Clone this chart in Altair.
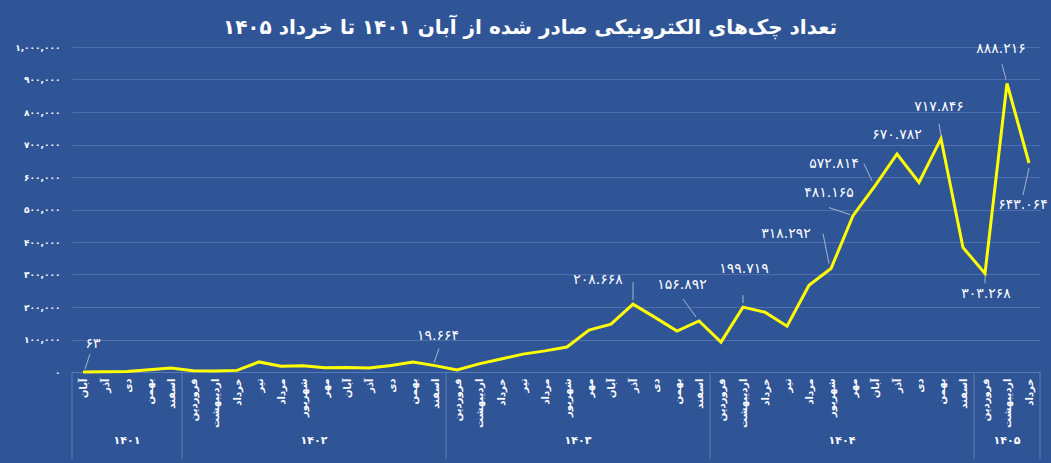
import altair as alt
import pandas as pd

FA = "۰۱۲۳۴۵۶۷۸۹"

def fa_digits(s):
    return "".join(FA[int(c)] if c.isdigit() else c for c in s)

title_text = "تعداد چک‌های الکترونیکی صادر شده از آبان ۱۴۰۱ تا خرداد ۱۴۰۵"

full_year = ["فروردین", "اردیبهشت", "خرداد", "تیر", "مرداد", "شهریور",
             "مهر", "آبان", "آذر", "دی", "بهمن", "اسفند"]
months = full_year[7:] + full_year * 3 + full_year[:3]
year_names = ["۱۴۰۱", "۱۴۰۲", "۱۴۰۳", "۱۴۰۴", "۱۴۰۵"]
year_counts = [5, 12, 12, 12, 3]

values = [63, 500, 1500, 7000, 12000,
          4000, 3000, 5000, 31000, 18000, 19000, 13000, 14000, 12000, 20000, 31000, 19664,
          6000, 25000, 40000, 55000, 65000, 77000, 129000, 147000, 208668, 168000, 126000, 156892,
          92000, 199719, 184000, 141000, 267000, 318292, 481165, 572814, 670782, 583000, 717846, 383000,
          303268, 888216, 643064]

y_ticks = [0, 100000, 200000, 300000, 400000, 500000, 600000, 700000, 800000, 900000, 1000000]

# labelled points: index, label offset (dx, dy) and leader segment offsets (layout only)
labels = [
    (0, 10, -28, (2, -3, 7, -18)),
    (16, 3, -30, (-1, -3, 4, -17)),
    (25, -35, -24, (0, -4, 0, -22)),
    (28, -17, -36, (-3, -4, -16, -22)),
    (30, 1, -38, (0, -4, 0, -12)),
    (34, -45, -35, (-2, -5, -8, -35)),
    (35, -24, -23, (-3, -1, -24, -8)),
    (36, -41, -22, (-3, -5, -11, -22)),
    (37, 0, -19, None),
    (39, -2, -32, (0, -3, -2, -15)),
    (41, 1, 21, (0, 3, 0, 10)),
    (42, -6, -34, (-1, -4, -5, -19)),
    (43, -6, 42, (0, 5, -6, 32)),
]

BG = "#2F5597"
FONT = "DejaVu Sans"

year_of = []
for y, c in zip(year_names, year_counts):
    year_of += [y] * c

df = pd.DataFrame({"idx": list(range(len(values))), "month": months,
                   "year": year_of, "value": values})
df["label"] = [fa_digits(f"{v:,}".replace(",", ".")) for v in values]

bounds = [-0.5]
for c in year_counts:
    bounds.append(bounds[-1] + c)
yr_df = pd.DataFrame({"year": year_names,
                      "idx": [(bounds[i] + bounds[i + 1]) / 2 for i in range(len(year_names))]})
sep_df = pd.DataFrame({"idx": bounds})

month_expr = "[" + ",".join(f"'{m}'" for m in months) + "][datum.value]"
y_expr = "format(datum.value, ',')"
for d in range(10):
    y_expr = f"replace({y_expr}, regexp('{d}', 'g'), '{FA[d]}')"

xscale = alt.Scale(domain=[-0.5, len(values) - 0.5], nice=False, zero=False)
yscale = alt.Scale(domain=[0, 1000000], nice=False)

X = alt.X("idx:Q", scale=xscale, title=None,
          axis=alt.Axis(values=list(range(len(values))), labelExpr=month_expr,
                        labelAngle=270, labelFont=FONT, labelFontSize=10,
                        labelFontWeight="bold",
                        labelColor="white", labelPadding=6, ticks=False, grid=False,
                        domainColor="#5A7AB5", labelOverlap=False, labelBound=False))
Y = alt.Y("value:Q", scale=yscale, title=None,
          axis=alt.Axis(values=y_ticks, labelExpr=y_expr, labelFont=FONT,
                        labelFontSize=9, labelFontWeight="bold", labelColor="white",
                        labelPadding=12, ticks=False, domain=False,
                        gridColor="#4E6FAB", gridWidth=1, labelOverlap=False))

base = alt.Chart(df)

line = base.mark_line(color="#FFFF00", strokeWidth=3).encode(x=X, y=Y)
layers = [line]

for idx, dx, dy, seg in labels:
    sub = base.transform_filter(alt.datum.idx == idx)
    if seg is not None:
        a, b, c, d = seg
        layers.append(sub.mark_rule(color="#A6B4D0", strokeWidth=1,
                                    xOffset=a, yOffset=b, x2Offset=c, y2Offset=d).encode(
            x=X, y=Y, x2="idx:Q", y2="value:Q"))
    layers.append(sub.mark_text(color="white", font=FONT, fontSize=14,
                                align="center", baseline="middle", dx=dx, dy=dy).encode(
        x=X, y=Y, text="label:N"))

seps = alt.Chart(sep_df).mark_rule(color="#5A7AB5", strokeWidth=1).encode(
    x=X, y=alt.value(325), y2=alt.value(412))
years_txt = alt.Chart(yr_df).mark_text(color="white", font=FONT, fontSize=11,
                                       fontWeight="bold", baseline="middle").encode(
    x=X, y=alt.value(394), text="year:N")
title_df = pd.DataFrame({"t": [title_text]})
title_mark = alt.Chart(title_df).mark_text(color="white", font=FONT, fontSize=20,
                                           fontWeight="bold", baseline="middle",
                                           align="center").encode(
    x=alt.value(458), y=alt.value(-19), text="t:N")

layers += [seps, years_txt, title_mark]

chart = alt.layer(*layers).properties(
    width=968, height=325,
    autosize=alt.AutoSizeParams(type="none"),
    padding={"left": 72, "top": 47, "right": 11, "bottom": 91},
    background=BG,
).configure_view(stroke=None)

chart.save("out.html", embed_options={"renderer": "svg", "actions": False})
